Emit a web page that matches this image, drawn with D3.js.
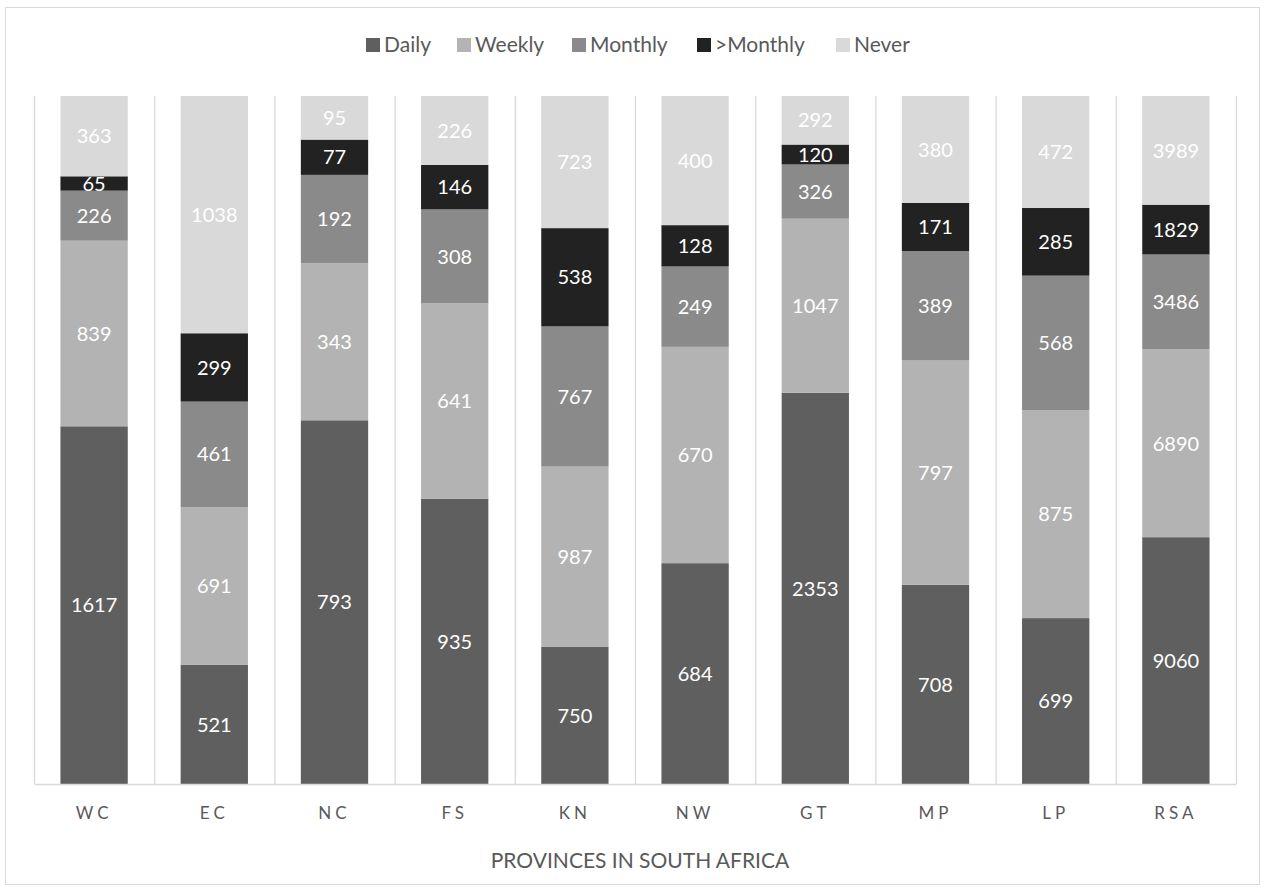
<!DOCTYPE html>
<html lang="en">
<head>
    <meta charset="UTF-8">
    <title>Provinces in South Africa</title>
    <script src="https://d3js.org/d3.v7.min.js"></script>
    <style>
        body { margin: 0; background: #fff; }
        svg text { font-family: Lato, "Open Sans", sans-serif; }
    </style>
</head>
<body>
    <svg id="chart" width="1266" height="892"></svg>

    <script>
        // Data
        const provinces = ["WC", "EC", "NC", "FS", "KN", "NW", "GT", "MP", "LP", "RSA"];
        const seriesNames = ["Daily", "Weekly", "Monthly", ">Monthly", "Never"];
        const daily    = [1617, 521, 793, 935, 750, 684, 2353, 708, 699, 9060];
        const weekly   = [839, 691, 343, 641, 987, 670, 1047, 797, 875, 6890];
        const monthly  = [226, 461, 192, 308, 767, 249, 326, 389, 568, 3486];
        const moreThanMonthly = [65, 299, 77, 146, 538, 128, 120, 171, 285, 1829];
        const never    = [363, 1038, 95, 226, 723, 400, 292, 380, 472, 3989];
        const colors = ["#5f5f5f", "#b3b3b3", "#8a8a8a", "#222222", "#d9d9d9"];

        const width = 1266, height = 892;
        const margin = { top: 96, right: 30, bottom: 108, left: 34 };

        const svg = d3.select("#chart");

        // outer chart border
        svg.append("rect")
            .attr("x", 5.5).attr("y", 7.5)
            .attr("width", 1254).attr("height", 877)
            .attr("fill", "none").attr("stroke", "#d9d9d9");

        const rows = provinces.map((p, i) => ({
            province: p,
            Daily: daily[i], Weekly: weekly[i], Monthly: monthly[i],
            ">Monthly": moreThanMonthly[i], Never: never[i]
        }));

        const stack = d3.stack().keys(seriesNames).offset(d3.stackOffsetExpand);
        const layers = stack(rows);

        const x = d3.scaleBand()
            .domain(provinces)
            .range([margin.left, width - margin.right])
            .paddingInner(0.44).paddingOuter(0.22);
        const cat = d3.scaleBand().domain(provinces).range([margin.left, width - margin.right]);
        const y = d3.scaleLinear().domain([0, 1]).range([height - margin.bottom, margin.top]);

        // vertical gridlines at category boundaries
        const bounds = provinces.map(p => cat(p)).concat([width - margin.right]);
        svg.append("g").selectAll("line")
            .data(bounds).join("line")
            .attr("x1", d => d + 0.5).attr("x2", d => d + 0.5)
            .attr("y1", margin.top).attr("y2", height - margin.bottom)
            .attr("stroke", "#d9d9d9").attr("stroke-width", 1.3);

        const color = d3.scaleOrdinal().domain(seriesNames).range(colors);

        const layerG = svg.append("g").selectAll("g")
            .data(layers).join("g")
            .attr("fill", d => color(d.key));

        layerG.selectAll("rect")
            .data(d => d).join("rect")
            .attr("x", d => x(d.data.province))
            .attr("y", d => y(d[1]))
            .attr("width", x.bandwidth())
            .attr("height", d => y(d[0]) - y(d[1]));

        // value labels
        svg.append("g").selectAll("g")
            .data(layers).join("g")
            .selectAll("text")
            .data(d => d.map(v => ({ v, key: d.key })))
            .join("text")
            .attr("x", d => x(d.v.data.province) + x.bandwidth() / 2)
            .attr("y", d => (y(d.v[0]) + y(d.v[1])) / 2)
            .attr("dy", "0.36em")
            .attr("text-anchor", "middle")
            .attr("font-size", "20px")
            .attr("fill", "#fff")
            .text(d => d.v.data[d.key]);

        // x axis
        const xAxis = svg.append("g")
            .attr("transform", `translate(0,${height - margin.bottom})`)
            .call(d3.axisBottom(cat).tickSize(0).tickPadding(23));
        xAxis.select(".domain").attr("stroke", "#d9d9d9").attr("stroke-width", 1.3);
        xAxis.selectAll("text")
            .attr("font-size", "17px")
            .attr("fill", "#595959")
            .attr("letter-spacing", "4px")
            .attr("font-family", "Lato, 'Open Sans', sans-serif");

        svg.append("text")
            .attr("x", 640)
            .attr("y", 868)
            .attr("text-anchor", "middle")
            .attr("font-size", "21px")
            .attr("fill", "#595959")
            .text("PROVINCES IN SOUTH AFRICA");

        // legend
        const legendItems = [
            { name: "Daily", x: 366 },
            { name: "Weekly", x: 457 },
            { name: "Monthly", x: 572 },
            { name: ">Monthly", x: 697 },
            { name: "Never", x: 836 }
        ];
        const legend = svg.append("g").selectAll("g")
            .data(legendItems).join("g")
            .attr("transform", d => `translate(${d.x},45)`);
        legend.append("rect")
            .attr("x", 0).attr("y", -7)
            .attr("width", 14).attr("height", 14)
            .attr("fill", d => color(d.name));
        legend.append("text")
            .attr("x", 18).attr("y", 0)
            .attr("dy", "0.35em")
            .attr("font-size", "21px")
            .attr("fill", "#595959")
            .text(d => d.name);
    </script>
</body>
</html>
